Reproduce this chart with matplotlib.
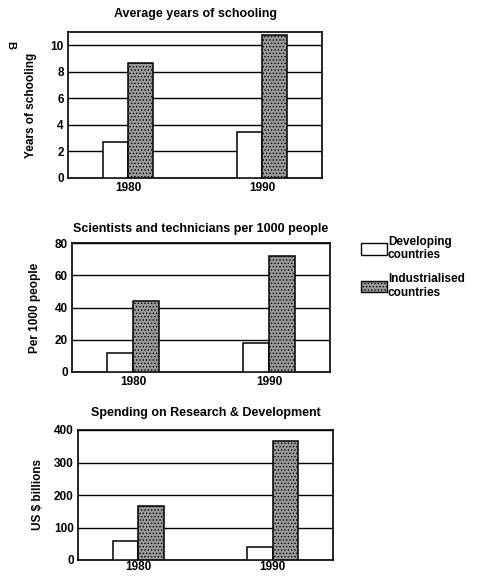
import numpy as np
import matplotlib.pyplot as plt
from matplotlib.patches import Patch

plt.rcParams['font.family'] = ['Liberation Sans', 'DejaVu Sans']
plt.rcParams['font.weight'] = 'bold'
plt.rcParams['hatch.color'] = '#555555'
plt.rcParams['hatch.linewidth'] = 0.6

# data
years = ['1980', '1990']
titles = ['Average years of schooling',
          'Scientists and technicians per 1000 people',
          'Spending on Research & Development']
ylabels = ['Years of schooling', 'Per 1000 people', 'US $ billions']
developing = [[2.7, 3.5], [12, 18], [58, 40]]
industrialised = [[8.7, 10.8], [44, 72], [165, 365]]
ylims = [11, 80, 400]
yticks = [np.arange(0, 11, 2), np.arange(0, 81, 20), np.arange(0, 401, 100)]

W, H = 480, 576
fig = plt.figure(figsize=(W / 100, H / 100), dpi=100)

# axes boxes in pixels: left, top, right, bottom
boxes = [(68, 32, 322, 178), (72, 243, 330, 372), (78, 430, 333, 560)]
title_pads = [11, 8, 10]
label_pads = [10, 10, 7]
xpads = [3, 3, 1]

x = np.array([0.236, 0.764])
w = 0.1

for i in range(3):
    l, t, r, b = boxes[i]
    ax = fig.add_axes([l / W, 1 - b / H, (r - l) / W, (b - t) / H])
    ax.bar(x - w / 2, developing[i], w, color='white', edgecolor='black',
           linewidth=1.1, zorder=3)
    ax.bar(x + w / 2, industrialised[i], w, color='#9a9a9a', edgecolor='black',
           hatch='.....', linewidth=1.1, zorder=3)
    ax.set_xlim(0, 1)
    ax.set_ylim(0, ylims[i])
    ax.set_yticks(yticks[i])
    ax.set_xticks(x)
    ax.set_xticklabels(years)
    ax.tick_params(axis='both', length=0, labelsize=8.5, pad=3)
    ax.tick_params(axis='x', pad=xpads[i])
    ax.yaxis.grid(True, color='black', linewidth=1.0, zorder=0)
    ax.set_axisbelow(True)
    for s in ax.spines.values():
        s.set_linewidth(1.2)
    ax.set_ylabel(ylabels[i], fontsize=8.5, fontweight='bold', labelpad=label_pads[i])
    ax.set_title(titles[i], fontsize=9, fontweight='bold', pad=title_pads[i])

# legend
handles = [Patch(facecolor='white', edgecolor='black', label='Developing\ncountries'),
           Patch(facecolor='#9a9a9a', edgecolor='black', hatch='.....',
                 label='Industrialised\ncountries')]
fig.legend(handles=handles, loc='upper left', bbox_to_anchor=(350 / W, 1 - 225 / H),
           frameon=False, fontsize=8.5, handlelength=2.2, handleheight=1.1,
           labelspacing=1.0, handletextpad=0.1)

fig.text(10 / W, 1 - 45 / H, 'B', rotation=270, fontsize=8, ha='center', va='center')

fig.savefig('out.png', dpi=100, facecolor='white')
